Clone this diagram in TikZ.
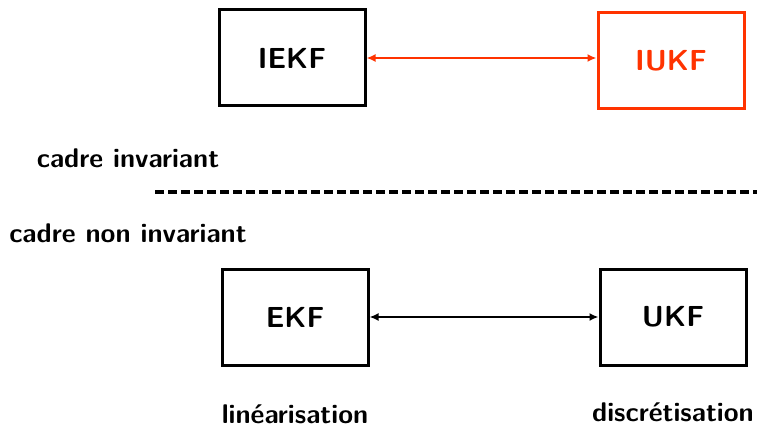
\documentclass[tikz,border=0pt]{standalone}
\usetikzlibrary{arrows.meta}
\definecolor{ired}{RGB}{255,51,0}
\begin{document}
\begin{tikzpicture}[x=1pt,y=-1pt,
  box/.style={draw,line width=3pt,minimum width=146pt,minimum height=96pt,font=\sffamily\bfseries\fontsize{29}{31}\selectfont},
  lbl/.style={font=\sffamily\bfseries\fontsize{27}{29}\selectfont},
  conn/.style={line width=2.6pt,{Latex[length=9pt,width=8pt]}-{Latex[length=9pt,width=8pt]}}]
\useasboundingbox (0,0) rectangle (761,428);
\node[box] (iekf) at (292,58) {IEKF};
\node[box,draw=ired,text=ired] (iukf) at (671,61) {IUKF};
\draw[conn,ired] (iekf.east) -- (iukf.west |- iekf.east);
\node[lbl] (ci) at (128,158) {cadre invariant};
\coordinate (d1) at (155,192);
\coordinate (d2) at (757,192);
\draw[line width=3.5pt,dash pattern=on 9pt off 4pt] (d1) -- (d2);
\node[lbl] (cni) at (128,233) {cadre non invariant};
\node[box] (ekf) at (295,317) {EKF};
\node[box] (ukf) at (673,317) {UKF};
\draw[conn] (ekf.east) -- (ukf.west);
\node[lbl] (lin) at (295,414) {linéarisation};
\node[lbl] (dis) at (673,412) {discrétisation};
\end{tikzpicture}
\end{document}
